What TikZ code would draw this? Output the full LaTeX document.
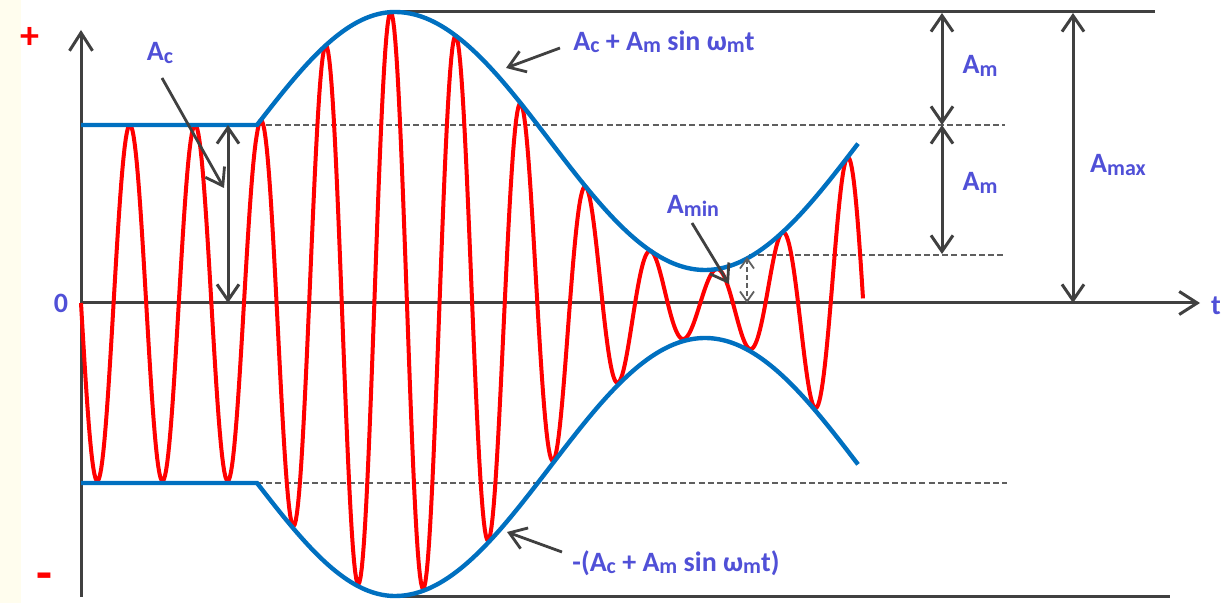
\documentclass[tikz,border=0pt]{standalone}
\usepackage{fontspec}
\setmainfont{Carlito}
\usetikzlibrary{arrows.meta}
\definecolor{envc}{RGB}{0,112,192}
\definecolor{lblc}{RGB}{80,80,215}
\definecolor{axisc}{RGB}{64,64,64}
\definecolor{dashc}{RGB}{95,95,95}
\definecolor{creamc}{RGB}{255,253,238}
\definecolor{carrc}{RGB}{255,0,0}
\newcommand{\mysub}[1]{\raisebox{-1.2pt}{\fontsize{11}{11}\selectfont #1}}
\tikzset{
  axisline/.style={draw=axisc, line width=1.5pt},
  dimarrow/.style={axisline, {Straight Barb[length=8pt,width=11pt]}-{Straight Barb[length=8pt,width=11pt]}},
  pointer/.style={axisline, line width=1.4pt, -{Straight Barb[length=8pt,width=11pt]}},
  refline/.style={draw=dashc, line width=0.9pt, dash pattern=on 3pt off 1.6pt},
  envline/.style={draw=envc, line width=2.2pt},
  carrline/.style={draw=carrc, line width=2pt, line join=round},
  lbl/.style={text=lblc, font=\bfseries\fontsize{14}{14}\selectfont, inner sep=0pt},
  signlbl/.style={text=carrc, font=\bfseries\fontsize{19}{19}\selectfont, inner sep=0pt}
}
\begin{document}
\begin{tikzpicture}[x=0.5pt,y=-0.5pt,
  declare function={
    upenv(\t)=(\t<395)*(125-113*sin((\t-257)*0.652174))+(\t>=395)*(141-129*cos((\t-395)*0.580645));
    amp(\t)=(\t<257)*178+(\t>=257)*(303-upenv(\t));
  }]
\useasboundingbox (0,0) rectangle (1222,603);
\fill[creamc] (0,0) rectangle (21,603);

% coordinates
\coordinate (yb) at (81,597); \coordinate (yt) at (81,30);
\coordinate (xo) at (81,303); \coordinate (xe) at (1200,303);
\coordinate (tl1) at (395,12); \coordinate (tl2) at (1155,12);
\coordinate (bl1) at (395,597); \coordinate (bl2) at (1170,597);
\coordinate (d1a) at (257,125); \coordinate (d1b) at (1005,125);
\coordinate (d2a) at (257,483); \coordinate (d2b) at (1007,483);
\coordinate (d3a) at (749,255); \coordinate (d3b) at (1005,255);
\coordinate (am1) at (942,13); \coordinate (am2) at (942,125); \coordinate (am3) at (942,254);
\coordinate (amx1) at (1073,13); \coordinate (amx2) at (1073,303);
\coordinate (ac1) at (228,125); \coordinate (ac2) at (228,303);
\coordinate (mn1) at (747,257); \coordinate (mn2) at (747,303);
\coordinate (pac1) at (162,78); \coordinate (pac2) at (224,188);
\coordinate (pup1) at (560,48); \coordinate (pup2) at (506,68);
\coordinate (plo1) at (562,552); \coordinate (plo2) at (507,532);
\coordinate (pmn1) at (692,223); \coordinate (pmn2) at (729,284);

% reference dashed lines
\draw[refline] (d1a) -- (d1b);
\draw[refline] (d2a) -- (d2b);
\draw[refline] (d3a) -- (d3b);

% axes and extreme lines
\draw[axisline] (tl1) -- (tl2);
\draw[axisline] (bl1) -- (bl2);
\draw[axisline, -{Straight Barb[length=9pt,width=11.5pt]}] (yb) -- (yt);
\draw[axisline, -{Straight Barb[length=9pt,width=11.5pt]}] (xo) -- (xe);

% carrier
\draw[carrline] plot[domain=81:863, samples=700] (\x, {303 + amp(\x)*sin((\x-81)*5.52232)});

% envelopes
\draw[envline] (81,125) -- (257,125) -- plot[domain=257:858, samples=200] (\x, {upenv(\x)});
\draw[envline] (81,483) -- (257,483) -- plot[domain=257:858, samples=200] (\x, {608-upenv(\x)});

% dimension arrows
\draw[dimarrow] (am1) -- (am2);
\draw[dimarrow] (am2) -- (am3);
\draw[dimarrow] (amx1) -- (amx2);
\draw[dimarrow] (ac1) -- (ac2);
\draw[draw=dashc, line width=0.9pt, dash pattern=on 2.5pt off 1.5pt, {Straight Barb[length=5pt,width=7pt]}-{Straight Barb[length=5pt,width=7pt]}] (mn1) -- (mn2);

% pointers
\draw[pointer] (pac1) -- (pac2);
\draw[pointer] (pup1) -- (pup2);
\draw[pointer] (plo1) -- (plo2);
\draw[pointer] (pmn1) -- (pmn2);

% labels
\node[lbl] (lac) at (160,53) {A\mysub{c}};
\node[lbl] (lup) at (664,42) {A\mysub{c} + A\mysub{m} sin ω\mysub{m}t};
\node[lbl] (llo) at (676,563) {-(A\mysub{c} + A\mysub{m} sin ω\mysub{m}t)};
\node[lbl] (lam1) at (980,66) {A\mysub{m}};
\node[lbl] (lam2) at (980,183) {A\mysub{m}};
\node[lbl] (lmax) at (1118,165) {A\mysub{max}};
\node[lbl] (lmin) at (693,206) {A\mysub{min}};
\node[lbl] (l0) at (61,303) {0};
\node[lbl] (lt) at (1216,306) {t};
\node[signlbl] (lplus) at (30,38) {+};
\node[signlbl, font=\bfseries\fontsize{26}{26}\selectfont] (lminus) at (44,582) {-};
\end{tikzpicture}
\end{document}
